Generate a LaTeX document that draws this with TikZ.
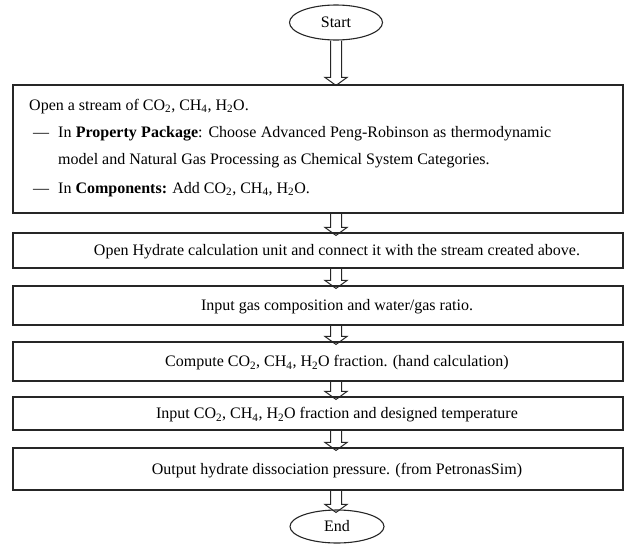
\documentclass[tikz,border=0pt]{standalone}
\usepackage{fontspec}
\setmainfont{Liberation Serif}
\usetikzlibrary{shapes.geometric,calc}
\pgfdeclarelayer{bg}
\pgfsetlayers{bg,main}
\newcommand\hollowarrow[2]{%
  \begin{pgfonlayer}{bg}
  \draw[harrow] let \p1=(#1), \p2=(#2) in
    (\x1-5.5pt,\y1) -- (\x1-5.5pt,\y2+8pt) -- (\x1-11pt,\y2+8pt) -- (\x1,\y2)
    -- (\x1+11pt,\y2+8pt) -- (\x1+5.5pt,\y2+8pt) -- (\x1+5.5pt,\y1);
  \end{pgfonlayer}}
\begin{document}
\begin{tikzpicture}[x=1pt,y=-1pt,
  font=\fontsize{16}{19}\selectfont,
  stepbox/.style={draw=black!85, line width=1.1pt, minimum width=610pt, inner sep=0pt},
  term/.style={draw=black!85, line width=1.1pt, ellipse, inner sep=0pt,
               minimum width=93pt, minimum height=35pt},
  txt/.style={inner sep=0pt, text height=10.5pt, text depth=0pt},
  ltxt/.style={inner sep=0pt, anchor=base west},
  harrow/.style={draw=black!85, line width=1pt, fill=white, line join=miter}]
\useasboundingbox (0,0) rectangle (626,544);

% terminals
\node[term] (start) at (336,22.5) {Start};
\node[term, minimum width=94pt, minimum height=33pt] (end) at (337,526.5) {End};

% boxes
\node[stepbox, minimum height=128pt] (b1) at (318,149) {};
\node[stepbox, minimum height=35pt] (b2) at (318,250.5) {};
\node[stepbox, minimum height=39pt] (b3) at (318,305.5) {};
\node[stepbox, minimum height=39pt] (b4) at (318,361.5) {};
\node[stepbox, minimum height=33pt] (b5) at (318,413.5) {};
\node[stepbox, minimum height=42pt] (b6) at (318,469) {};

% box 1 text
\node[ltxt] (l1) at (29,110) {Open a stream of CO\textsubscript{2}, CH\textsubscript{4}, H\textsubscript{2}O.};
\node[ltxt] (d1) at (33,137) {—};
\node[ltxt] (l2) at (58,137) {\makebox[493pt][s]{In \textbf{Property Package}: Choose Advanced Peng-Robinson as thermodynamic}};
\node[ltxt] (l3) at (58,164) {model and Natural Gas Processing as Chemical System Categories.};
\node[ltxt] (d2) at (33,193) {—};
\node[ltxt] (l4) at (58,193) {In \textbf{Components:} Add CO\textsubscript{2}, CH\textsubscript{4}, H\textsubscript{2}O.};

% other box texts
\node[txt] (t2) at (337,250.5) {Open Hydrate calculation unit and connect it with the stream created above.};
\node[txt] (t3) at (337,305.5) {Input gas composition and water/gas ratio.};
\node[txt] (t4) at (337,361.5) {Compute CO\textsubscript{2}, CH\textsubscript{4}, H\textsubscript{2}O fraction. (hand calculation)};
\node[txt] (t5) at (337,413.5) {Input CO\textsubscript{2}, CH\textsubscript{4}, H\textsubscript{2}O fraction and designed temperature};
\node[txt] (t6) at (337,469) {Output hydrate dissociation pressure. (from PetronasSim)};

% arrows
\hollowarrow{start.south}{$(b1.north)+(18,1)$}
\hollowarrow{$(b1.south)+(18,0)$}{$(b2.north)+(18,3)$}
\hollowarrow{$(b2.south)+(18,0)$}{$(b3.north)+(18,3)$}
\hollowarrow{$(b3.south)+(18,0)$}{$(b4.north)+(18,3)$}
\hollowarrow{$(b4.south)+(18,0)$}{$(b5.north)+(18,3)$}
\hollowarrow{$(b5.south)+(18,0)$}{$(b6.north)+(18,3)$}
\hollowarrow{$(b6.south)+(18,0)$}{$(end.north)+(0,3)$}
\end{tikzpicture}
\end{document}
